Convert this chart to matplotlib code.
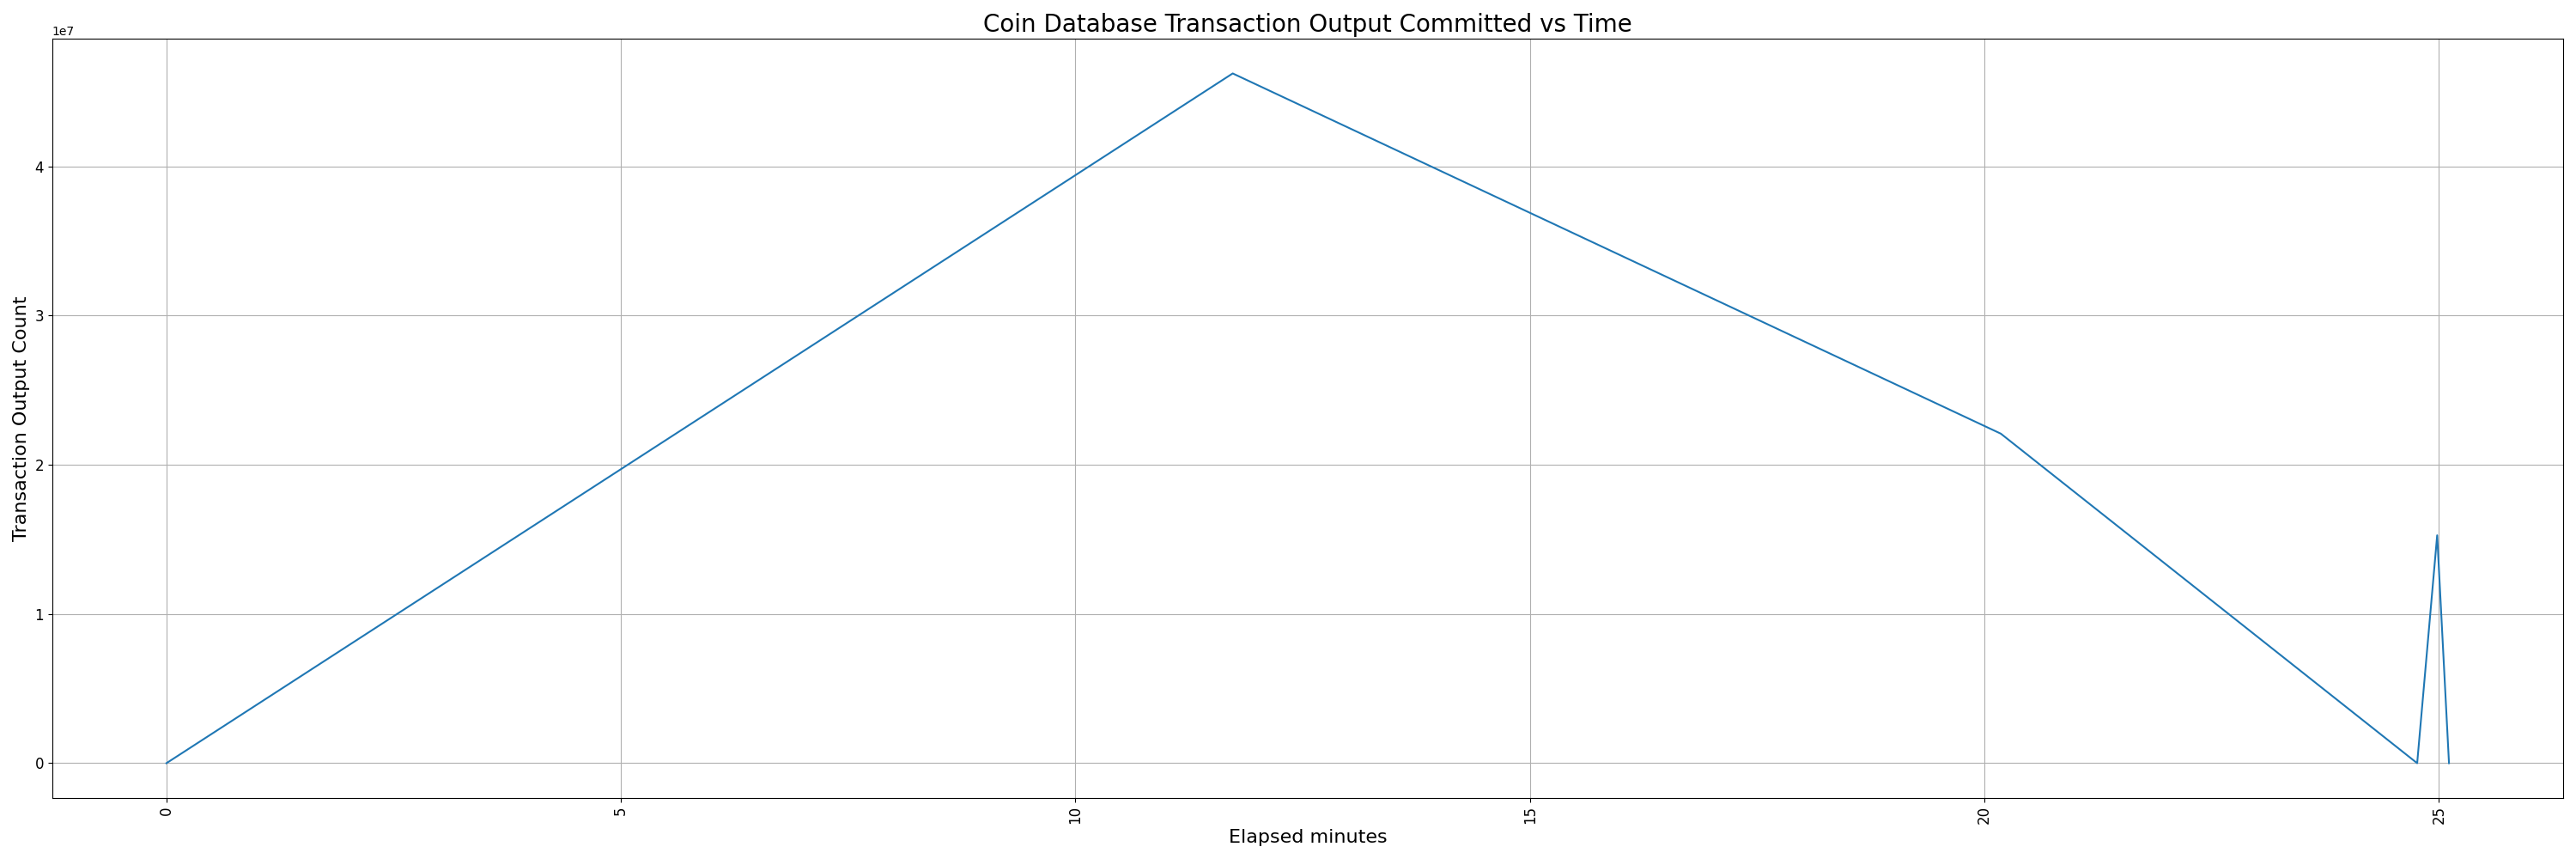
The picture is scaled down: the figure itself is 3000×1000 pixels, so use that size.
import matplotlib
matplotlib.use("Agg")
import matplotlib.pyplot as plt

# elapsed minutes vs transaction outputs committed
minutes = [0.0, 11.73, 20.18, 24.76, 24.98, 25.11]
outputs = [0.0, 4.622e7, 2.208e7, 0.0, 1.527e7, 0.0]

fig, ax = plt.subplots(figsize=(30, 10), dpi=100)
ax.plot(minutes, outputs, color="#1f77b4", linewidth=1.5)

ax.set_title("Coin Database Transaction Output Committed vs Time", fontsize=20)
ax.set_xlabel("Elapsed minutes", fontsize=16)
ax.set_ylabel("Transaction Output Count", fontsize=16)
ax.tick_params(axis="both", labelsize=12)
ax.tick_params(axis="x", labelrotation=90)
ax.grid(True)

fig.tight_layout()
fig.savefig("out.png", dpi=100)
